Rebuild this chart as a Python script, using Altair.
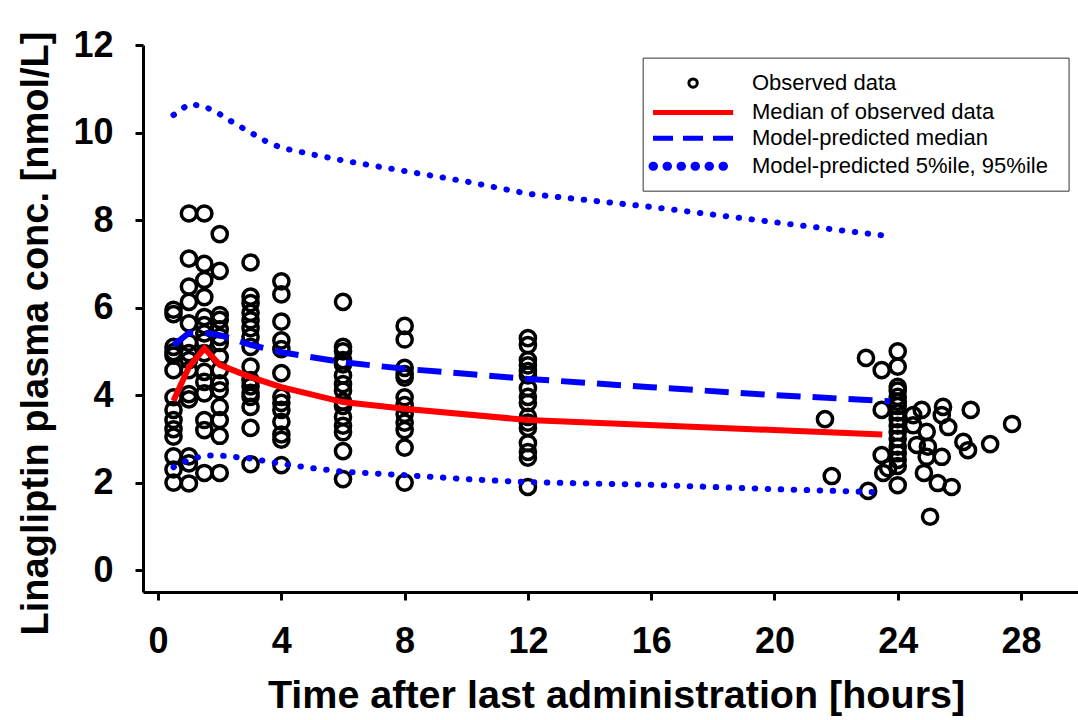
import altair as alt
import pandas as pd

# ---------------- data ----------------
# observed data, grouped by nominal sampling time (hours)
OBS_T05 = [5.95, 5.85, 5.1, 4.98, 4.9, 4.57, 3.95, 3.66, 3.43, 3.22, 3.05, 2.6, 2.3, 2.0]
OBS_T1 = [8.15, 7.12, 6.48, 6.13, 5.64, 5.2, 4.96, 4.8, 4.57, 4.02, 3.9, 2.6, 2.44, 1.98]
OBS_T15 = [8.15, 7.0, 6.63, 6.24, 5.78, 5.6, 5.41, 5.22, 4.96, 4.53, 4.3, 4.04, 3.43, 3.2, 2.22]
OBS_T2 = [7.68, 6.84, 5.83, 5.72, 5.5, 5.33, 5.19, 4.87, 4.57, 4.27, 4.11, 3.73, 3.43, 3.07, 2.22]
OBS_T3 = [7.03, 6.25, 6.1, 5.88, 5.71, 5.53, 5.33, 5.1, 4.65, 4.34, 4.2, 4.05, 3.96, 3.73, 3.25, 2.42]
OBS_T4 = [6.6, 6.3, 5.68, 5.25, 5.05, 4.5, 3.96, 3.82, 3.66, 3.39, 3.1, 2.98, 2.4]
OBS_T6 = [6.13, 5.1, 5.0, 4.8, 4.7, 4.45, 4.25, 4.1, 3.85, 3.75, 3.5, 3.3, 3.15, 2.72, 2.08]
OBS_T8 = [5.58, 5.27, 4.62, 4.48, 4.4, 3.95, 3.77, 3.57, 3.37, 3.2, 2.8, 2.0]
OBS_T12 = [5.3, 5.14, 4.8, 4.68, 4.55, 4.45, 4.16, 3.96, 3.82, 3.5, 3.37, 3.25, 2.9, 2.7, 2.57, 1.9]
OBS_T24 = [5.0, 4.65, 4.19, 4.1, 3.96, 3.85, 3.75, 3.6, 3.45, 3.3, 3.15, 3.0, 2.82, 2.67, 2.52, 2.38, 1.94]
# observed data recorded at actual (scattered) late times
LATE_T = [22.97, 23.48, 21.64, 23.48, 23.48, 23.53, 23.69, 21.86, 23.04, 25.05, 24.5, 24.78,
          25.47, 25.43, 26.37, 27.71, 24.5, 24.94, 25.64, 24.62, 24.98, 24.94, 25.43, 26.13,
          26.28, 27.0, 24.85, 25.3, 25.75]
LATE_C = [4.85, 4.57, 3.45, 3.66, 2.63, 2.22, 2.33, 2.15, 1.81, 1.22, 3.54, 3.66,
          3.73, 3.54, 3.66, 3.34, 3.31, 3.16, 3.27, 2.86, 2.82, 2.59, 2.59, 2.93,
          2.74, 2.88, 2.22, 1.99, 1.9]

# median of observed data
MED_OBS_T = [0.5, 1, 1.5, 2, 3, 4, 6, 8, 12, 23.5]
MED_OBS_C = [3.87, 4.64, 5.07, 4.69, 4.41, 4.18, 3.84, 3.69, 3.43, 3.10]

# model-predicted median
MED_PRED_T = [0.5, 1, 1.5, 2, 3, 4, 6, 8, 12, 16, 20, 23.75]
MED_PRED_C = [5.14, 5.42, 5.42, 5.37, 5.15, 4.98, 4.75, 4.6, 4.37, 4.18, 4.0, 3.86]

# model-predicted 95th percentile
P95_T = [0.5, 1, 1.5, 2, 2.5, 3, 3.5, 4, 5, 6, 8, 10, 12, 16, 20, 23.5]
P95_C = [10.4, 10.65, 10.6, 10.42, 10.2, 10.0, 9.8, 9.65, 9.5, 9.36, 9.12, 8.88, 8.6, 8.3, 7.95, 7.65]

# model-predicted 5th percentile
P05_T = [0.5, 1, 1.5, 2, 3, 4, 5, 6, 8, 10, 12, 16, 20, 23.5]
P05_C = [2.35, 2.52, 2.62, 2.62, 2.55, 2.43, 2.33, 2.25, 2.17, 2.08, 2.01, 1.95, 1.85, 1.78]

LEGEND_LABELS = ["Observed data", "Median of observed data",
                 "Model-predicted median", "Model-predicted 5%ile, 95%ile"]

X_TICKS = [0, 4, 8, 12, 16, 20, 24, 28]
Y_TICKS = [0, 2, 4, 6, 8, 10, 12]

# ---------------- tables ----------------
obs_rows = []
for t, vals in [(0.5, OBS_T05), (1, OBS_T1), (1.5, OBS_T15), (2, OBS_T2), (3, OBS_T3),
                (4, OBS_T4), (6, OBS_T6), (8, OBS_T8), (12, OBS_T12), (24, OBS_T24)]:
    for v in vals:
        obs_rows.append({"t": t, "c": v})
for t, v in zip(LATE_T, LATE_C):
    obs_rows.append({"t": t, "c": v})
obs = pd.DataFrame(obs_rows)

med_obs = pd.DataFrame({"t": MED_OBS_T, "c": MED_OBS_C})
med_pred = pd.DataFrame({"t": MED_PRED_T, "c": MED_PRED_C})
p95 = pd.DataFrame({"t": P95_T, "c": P95_C})
p05 = pd.DataFrame({"t": P05_T, "c": P05_C})

FONT = "Liberation Sans"
RED = "#ff0000"
BLUE = "#0000ff"

xscale = alt.Scale(domain=[-0.49, 29.85], nice=False, zero=False)
yscale = alt.Scale(domain=[-0.5, 12], nice=False, zero=False)

xaxis = alt.Axis(values=X_TICKS, title="Time after last administration [hours]",
                 grid=False, domainColor="black", domainWidth=3, tickColor="black",
                 tickWidth=3, tickSize=8, labelFont=FONT, labelFontSize=36,
                 labelFontWeight="bold", labelColor="black", labelPadding=24,
                 titleFont=FONT, titleFontSize=39.5, titleFontWeight="bold",
                 titleColor="black", titleBaseline="alphabetic", titleY=115,
                 titleX=473, titleAlign="center")
yaxis = alt.Axis(values=Y_TICKS, title="Linagliptin plasma conc. [nmol/L]",
                 grid=False, domainColor="black", domainWidth=3, tickColor="black",
                 tickWidth=3, tickSize=8, labelFont=FONT, labelFontSize=36,
                 labelFontWeight="bold", labelColor="black", labelPadding=22,
                 titleFont=FONT, titleFontSize=38, titleFontWeight="bold",
                 titleColor="black", titleBaseline="alphabetic", titleAngle=270,
                 titleX=-96, titleY=288, titleAlign="center")

X = lambda: alt.X("t:Q", scale=xscale, axis=xaxis)
Y = lambda: alt.Y("c:Q", scale=yscale, axis=yaxis)

points = alt.Chart(obs).mark_point(shape="circle", filled=False, stroke="black",
                                   strokeWidth=3.5, size=230, opacity=1).encode(x=X(), y=Y())
line_obs = alt.Chart(med_obs).mark_line(color=RED, strokeWidth=6).encode(x=X(), y=Y())
line_pred = alt.Chart(med_pred).mark_line(color=BLUE, strokeWidth=6,
                                          strokeDash=[24, 12]).encode(x=X(), y=Y())
line_p95 = alt.Chart(p95).mark_line(color=BLUE, strokeWidth=6, strokeDash=[0.5, 12.5],
                                    strokeCap="round").encode(x=X(), y=Y())
line_p05 = alt.Chart(p05).mark_line(color=BLUE, strokeWidth=6, strokeDash=[0.5, 12.5],
                                    strokeCap="round").encode(x=X(), y=Y())

# ---------------- legend (in data space) ----------------
LG_LEFT, LG_RIGHT, LG_TOP, LG_BOTTOM = 15.74, 29.56, 11.70, 8.66
LG_ROWS = [11.13, 10.46, 9.87, 9.23]
LG_SYM_X1, LG_SYM_X2, LG_SYM_XC, LG_TEXT_X = 16.06, 18.66, 17.36, 19.27

box = alt.Chart(pd.DataFrame({"x": [LG_LEFT], "x2": [LG_RIGHT], "y": [LG_TOP], "y2": [LG_BOTTOM]})).mark_rect(
    fill="white", stroke="#333333", strokeWidth=1).encode(
    x=alt.X("x:Q", scale=xscale, axis=xaxis), x2="x2:Q",
    y=alt.Y("y:Q", scale=yscale, axis=yaxis), y2="y2:Q")

lg_text = alt.Chart(pd.DataFrame({"x": [LG_TEXT_X] * 4, "y": LG_ROWS, "label": LEGEND_LABELS})).mark_text(
    align="left", baseline="middle", font=FONT, fontSize=22, color="black").encode(
    x=alt.X("x:Q", scale=xscale, axis=xaxis), y=alt.Y("y:Q", scale=yscale, axis=yaxis), text="label:N")

lg_circle = alt.Chart(pd.DataFrame({"x": [LG_SYM_XC], "y": [LG_ROWS[0]]})).mark_point(
    shape="circle", filled=False, stroke="black", strokeWidth=3, size=70, opacity=1).encode(
    x=alt.X("x:Q", scale=xscale, axis=xaxis), y=alt.Y("y:Q", scale=yscale, axis=yaxis))


def lg_rule(row, **kw):
    return alt.Chart(pd.DataFrame({"x": [LG_SYM_X1], "x2": [LG_SYM_X2], "y": [LG_ROWS[row]]})).mark_rule(**kw).encode(
        x=alt.X("x:Q", scale=xscale, axis=xaxis), x2="x2:Q",
        y=alt.Y("y:Q", scale=yscale, axis=yaxis))


lg_red = lg_rule(1, color=RED, strokeWidth=5)
lg_dash = lg_rule(2, color=BLUE, strokeWidth=5, strokeDash=[20, 10])
lg_dot = lg_rule(3, color=BLUE, strokeWidth=9, strokeDash=[0.5, 13.5], strokeCap="round")

chart = alt.layer(points, line_obs, line_pred, line_p95, line_p05,
                  box, lg_text, lg_circle, lg_red, lg_dash, lg_dot).properties(
    width=935, height=547,
    autosize=alt.AutoSizeParams(type="none"),
    padding={"left": 143, "top": 45, "right": 0, "bottom": 128},
    background="white",
).configure_view(stroke=None)

chart.save("out.html", embed_options={"renderer": "svg", "actions": False})
